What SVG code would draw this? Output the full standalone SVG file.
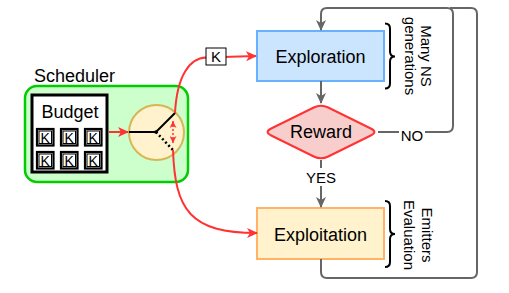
<svg xmlns="http://www.w3.org/2000/svg" width="509" height="293" viewBox="0 0 509 293">
<style>
text{font-family:"Liberation Sans",Arial,Helvetica,sans-serif;fill:#000}
.big{font-size:18px}
.lbl{font-size:15px}
.kt{font-size:14px}
.gray{fill:none;stroke:#666666;stroke-width:2}
.red{fill:none;stroke:#ff3333;stroke-width:2}
.kout{fill:#fff;stroke:#000;stroke-width:2.2}
.kin{fill:none;stroke:#000;stroke-width:1}
</style>
<defs>
<marker id="ag" markerUnits="userSpaceOnUse" markerWidth="12" markerHeight="10" refX="10" refY="5" orient="auto" viewBox="0 0 12 10">
<path d="M0,0 L11,5 L0,10 L3,5 Z" fill="#666666"/>
</marker>
<marker id="ar" markerUnits="userSpaceOnUse" markerWidth="12" markerHeight="10" refX="10" refY="5" orient="auto" viewBox="0 0 12 10">
<path d="M0,0 L11,5 L0,10 L3,5 Z" fill="#ff3333"/>
</marker>
<marker id="ars" markerUnits="userSpaceOnUse" markerWidth="8" markerHeight="7" refX="7" refY="3.5" orient="auto-start-reverse" viewBox="0 0 8 7">
<path d="M0,0 L7,3.5 L0,7 L2,3.5 Z" fill="#ff3333"/>
</marker>
</defs>

<g id="scheduler">
<rect x="25" y="86" width="163" height="96" rx="12" fill="#ccffcc" stroke="#00cc00" stroke-width="2.5"/>
<text x="34" y="82" class="big">Scheduler</text>
</g>

<g id="budget">
<rect x="32" y="95" width="75" height="77" fill="#fff" stroke="#000" stroke-width="3"/>
<text x="70" y="118" class="big" text-anchor="middle">Budget</text>
<g id="k1"><rect class="kout" x="37" y="129" width="16.5" height="16.5"/><rect class="kin" x="39" y="131" width="12.5" height="12.5"/><text x="45.25" y="142.5" class="kt" text-anchor="middle">K</text></g>
<g id="k2"><rect class="kout" x="61" y="129" width="16.5" height="16.5"/><rect class="kin" x="63" y="131" width="12.5" height="12.5"/><text x="69.25" y="142.5" class="kt" text-anchor="middle">K</text></g>
<g id="k3"><rect class="kout" x="85" y="129" width="16.5" height="16.5"/><rect class="kin" x="87" y="131" width="12.5" height="12.5"/><text x="93.25" y="142.5" class="kt" text-anchor="middle">K</text></g>
<g id="k4"><rect class="kout" x="37" y="152" width="16.5" height="16.5"/><rect class="kin" x="39" y="154" width="12.5" height="12.5"/><text x="45.25" y="165.5" class="kt" text-anchor="middle">K</text></g>
<g id="k5"><rect class="kout" x="61" y="152" width="16.5" height="16.5"/><rect class="kin" x="63" y="154" width="12.5" height="12.5"/><text x="69.25" y="165.5" class="kt" text-anchor="middle">K</text></g>
<g id="k6"><rect class="kout" x="85" y="152" width="16.5" height="16.5"/><rect class="kin" x="87" y="154" width="12.5" height="12.5"/><text x="93.25" y="165.5" class="kt" text-anchor="middle">K</text></g>
</g>

<g id="switch">
<circle cx="156.5" cy="132.5" r="27.5" fill="#fff2cc" stroke="#d6b656" stroke-width="2"/>
<path d="M129,132 L156,132 L175,113" fill="none" stroke="#000" stroke-width="2"/>
<path d="M156,132 L173,150" fill="none" stroke="#000" stroke-width="2.5" stroke-dasharray="2,2.5"/>
<circle cx="156" cy="132" r="1.8" fill="#000"/>
<path d="M173,121 L173,143" fill="none" stroke="#ff3333" stroke-width="1.5" stroke-dasharray="2,2" marker-start="url(#ars)" marker-end="url(#ars)"/>
</g>

<g id="exploration">
<rect x="257" y="31" width="127" height="50" fill="#cce5ff" stroke="#66b2ff" stroke-width="2"/>
<text x="320.5" y="63" class="big" text-anchor="middle">Exploration</text>
</g>

<g id="reward">
<path d="M313.8,107.5 Q321,104 328.2,107.5 L370.8,128.5 Q378,132 370.8,135.5 L328.2,156.5 Q321,160 313.8,156.5 L271.2,135.5 Q264,132 271.2,128.5 Z" fill="#f8cecc" stroke="#ff3333" stroke-width="2"/>
<text x="321" y="138" class="big" text-anchor="middle">Reward</text>
</g>

<g id="exploitation">
<rect x="257" y="208" width="127" height="51" fill="#fff2cc" stroke="#ffb366" stroke-width="2"/>
<text x="320.5" y="240.5" class="big" text-anchor="middle">Exploitation</text>
</g>

<g id="brace-top">
<path d="M385,23.5 Q390,23.5 390,28.5 L390,51.5 Q390,56.5 395,56.5 Q390,56.5 390,61.5 L390,83.5 Q390,88.5 385,88.5" fill="none" stroke="#000" stroke-width="2"/>
<g transform="rotate(90)">
<text x="56" y="-421" class="lbl" text-anchor="middle">Many NS</text>
<text x="56" y="-405" class="lbl" text-anchor="middle">generations</text>
</g>
</g>

<g id="brace-bottom">
<path d="M385,201 Q390,201 390,206 L390,229 Q390,234 395,234 Q390,234 390,239 L390,262 Q390,267 385,267" fill="none" stroke="#000" stroke-width="2"/>
<g transform="rotate(90)">
<text x="235" y="-422" class="lbl" text-anchor="middle">Emitters</text>
<text x="235" y="-404" class="lbl" text-anchor="middle">Evaluation</text>
</g>
</g>

<g id="connectors">
<path class="gray" d="M321,81 L321,103" marker-end="url(#ag)"/>
<path class="gray" d="M321,160 L321,207" marker-end="url(#ag)"/>
<rect x="303" y="168" width="36" height="18" fill="#fff"/>
<text x="321" y="183" class="lbl" text-anchor="middle">YES</text>
<path class="gray" d="M378,132 L447,132 Q453,132 453,126 L453,14 Q453,8 447,8 L327,8 Q321,8 321,14 L321,30" marker-end="url(#ag)"/>
<path class="gray" d="M321,259 L321,272 Q321,278 327,278 L471,278 Q477,278 477,272 L477,14 Q477,8 471,8 L450,8"/>
<rect x="399" y="126" width="26" height="17" fill="#fff"/>
<text x="412" y="141" class="lbl" text-anchor="middle">NO</text>
<path class="red" d="M109,132 L128,132" marker-end="url(#ar)"/>
<path class="red" d="M175,113 C177,75 190,58 206,57.5 L256,56" marker-end="url(#ar)"/>
<path class="red" d="M173,150 C175,210 190,233 257,233" marker-end="url(#ar)"/>
<rect x="206" y="48" width="20" height="17" fill="#fff" stroke="#000" stroke-width="1"/>
<text x="216" y="62" class="lbl" text-anchor="middle">K</text>
</g>
</svg>
